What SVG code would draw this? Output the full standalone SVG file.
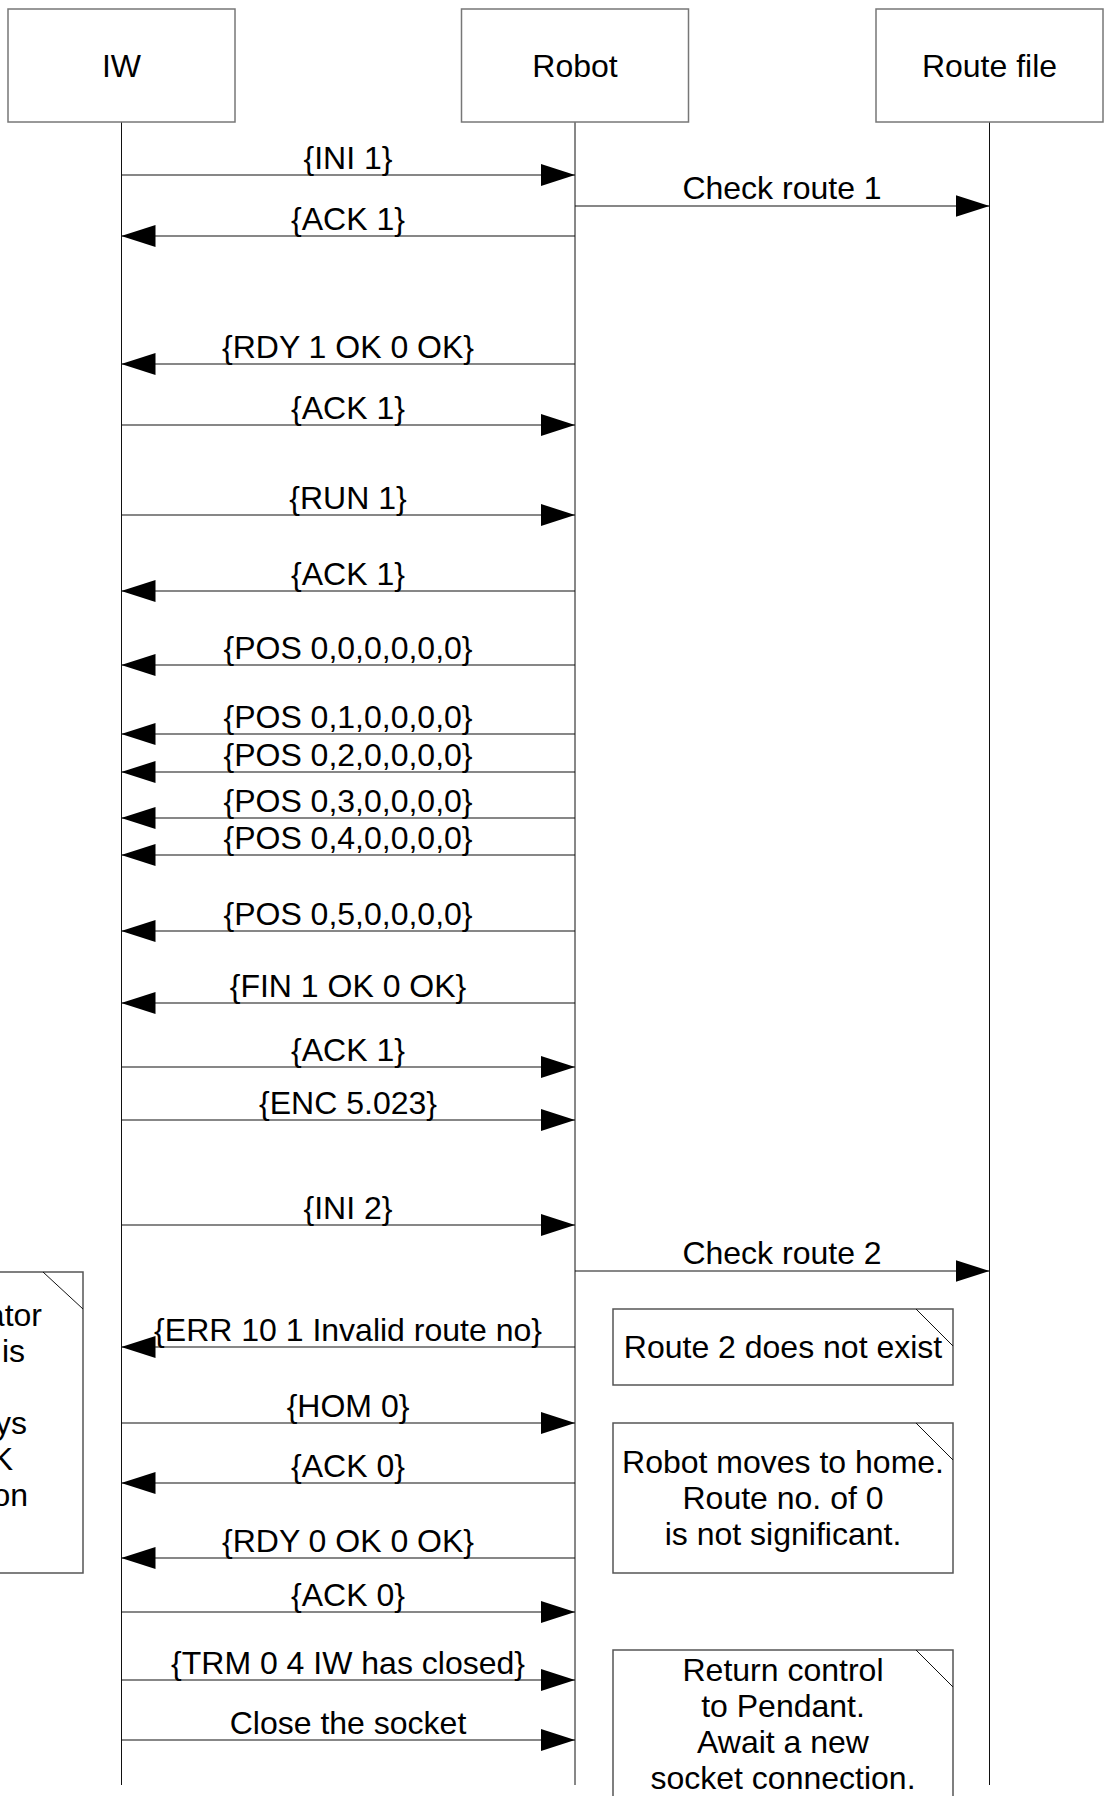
<svg xmlns="http://www.w3.org/2000/svg" width="1105" height="1796" viewBox="0 0 1105 1796">
<style>
text{font-family:"Liberation Sans",Arial,sans-serif;font-size:32px;fill:#000}
.c{text-anchor:middle}
.e{text-anchor:end}
.actor{fill:#fff;stroke:#777;stroke-width:1.5}
.life{stroke:#111;stroke-width:1;fill:none}
.msg{stroke:#111;stroke-width:1.2;fill:none;marker-end:url(#ah)}
.note{fill:#fff;stroke:#555;stroke-width:1.5}
.fold{stroke:#111;stroke-width:1;fill:none}
</style>
<defs>
<marker id="ah" markerUnits="userSpaceOnUse" markerWidth="34" markerHeight="22" refX="34" refY="11" orient="auto" viewBox="0 0 34 22">
<path d="M0,0 L34,11 L0,22 z" fill="#000"/>
</marker>
</defs>
<rect width="1105" height="1796" fill="#fff"/>
<g id="lifelines">
<line class="life" x1="121.5" y1="122" x2="121.5" y2="1785"/>
<line class="life" x1="575" y1="122" x2="575" y2="1785"/>
<line class="life" x1="989.5" y1="122" x2="989.5" y2="1785"/>
</g>
<g id="actor-iw"><rect class="actor" x="8" y="9" width="227" height="113"/><text class="c" x="121.5" y="77">IW</text></g>
<g id="actor-robot"><rect class="actor" x="461.5" y="9" width="227" height="113"/><text class="c" x="575" y="77">Robot</text></g>
<g id="actor-routefile"><rect class="actor" x="876" y="9" width="227" height="113"/><text class="c" x="989.5" y="77">Route file</text></g>
<g id="connectors">
<line class="msg" x1="121.5" y1="175" x2="575" y2="175"/>
<line class="msg" x1="575" y1="206" x2="989.5" y2="206"/>
<line class="msg" x1="575" y1="236" x2="121.5" y2="236"/>
<line class="msg" x1="575" y1="364" x2="121.5" y2="364"/>
<line class="msg" x1="121.5" y1="425" x2="575" y2="425"/>
<line class="msg" x1="121.5" y1="515" x2="575" y2="515"/>
<line class="msg" x1="575" y1="591" x2="121.5" y2="591"/>
<line class="msg" x1="575" y1="665" x2="121.5" y2="665"/>
<line class="msg" x1="575" y1="734" x2="121.5" y2="734"/>
<line class="msg" x1="575" y1="772" x2="121.5" y2="772"/>
<line class="msg" x1="575" y1="818" x2="121.5" y2="818"/>
<line class="msg" x1="575" y1="855" x2="121.5" y2="855"/>
<line class="msg" x1="575" y1="931" x2="121.5" y2="931"/>
<line class="msg" x1="575" y1="1003" x2="121.5" y2="1003"/>
<line class="msg" x1="121.5" y1="1067" x2="575" y2="1067"/>
<line class="msg" x1="121.5" y1="1120" x2="575" y2="1120"/>
<line class="msg" x1="121.5" y1="1225" x2="575" y2="1225"/>
<line class="msg" x1="575" y1="1271" x2="989.5" y2="1271"/>
<line class="msg" x1="575" y1="1347" x2="121.5" y2="1347"/>
<line class="msg" x1="121.5" y1="1423" x2="575" y2="1423"/>
<line class="msg" x1="575" y1="1483" x2="121.5" y2="1483"/>
<line class="msg" x1="575" y1="1558" x2="121.5" y2="1558"/>
<line class="msg" x1="121.5" y1="1612" x2="575" y2="1612"/>
<line class="msg" x1="121.5" y1="1680" x2="575" y2="1680"/>
<line class="msg" x1="121.5" y1="1740" x2="575" y2="1740"/>
</g>
<g id="labels">
<text class="c" x="348" y="169">{INI 1}</text>
<text class="c" x="782" y="199">Check route 1</text>
<text class="c" x="348" y="230">{ACK 1}</text>
<text class="c" x="348" y="358">{RDY 1 OK 0 OK}</text>
<text class="c" x="348" y="419">{ACK 1}</text>
<text class="c" x="348" y="509">{RUN 1}</text>
<text class="c" x="348" y="585">{ACK 1}</text>
<text class="c" x="348" y="659">{POS 0,0,0,0,0,0}</text>
<text class="c" x="348" y="728">{POS 0,1,0,0,0,0}</text>
<text class="c" x="348" y="766">{POS 0,2,0,0,0,0}</text>
<text class="c" x="348" y="812">{POS 0,3,0,0,0,0}</text>
<text class="c" x="348" y="849">{POS 0,4,0,0,0,0}</text>
<text class="c" x="348" y="925">{POS 0,5,0,0,0,0}</text>
<text class="c" x="348" y="997">{FIN 1 OK 0 OK}</text>
<text class="c" x="348" y="1061">{ACK 1}</text>
<text class="c" x="348" y="1114">{ENC 5.023}</text>
<text class="c" x="348" y="1219">{INI 2}</text>
<text class="c" x="782" y="1264">Check route 2</text>
<text class="c" x="348" y="1341">{ERR 10 1 Invalid route no}</text>
<text class="c" x="348" y="1417">{HOM 0}</text>
<text class="c" x="348" y="1477">{ACK 0}</text>
<text class="c" x="348" y="1552">{RDY 0 OK 0 OK}</text>
<text class="c" x="348" y="1606">{ACK 0}</text>
<text class="c" x="348" y="1674">{TRM 0 4 IW has closed}</text>
<text class="c" x="348" y="1734">Close the socket</text>
</g>
<g id="note-left">
<rect class="note" x="-260" y="1272" width="343" height="301"/>
<line class="fold" x1="43" y1="1272" x2="83" y2="1309"/>
<text class="e" x="42" y="1326">ator</text>
<text class="e" x="25" y="1362">is</text>
<text class="e" x="27" y="1434">ys</text>
<text class="e" x="13" y="1470">K</text>
<text class="e" x="28" y="1506">on</text>
</g>
<g id="note-route2">
<rect class="note" x="613" y="1309" width="340" height="76"/>
<line class="fold" x1="916" y1="1309" x2="953" y2="1346"/>
<text class="c" x="783" y="1358">Route 2 does not exist</text>
</g>
<g id="note-home">
<rect class="note" x="613" y="1423" width="340" height="150"/>
<line class="fold" x1="916" y1="1423" x2="953" y2="1460"/>
<text class="c" x="783" y="1473">Robot moves to home.</text>
<text class="c" x="783" y="1509">Route no. of 0</text>
<text class="c" x="783" y="1545">is not significant.</text>
</g>
<g id="note-return">
<rect class="note" x="613" y="1650" width="340" height="170"/>
<line class="fold" x1="916" y1="1650" x2="953" y2="1687"/>
<text class="c" x="783" y="1681">Return control</text>
<text class="c" x="783" y="1717">to Pendant.</text>
<text class="c" x="783" y="1753">Await a new</text>
<text class="c" x="783" y="1789">socket connection.</text>
</g>
</svg>
